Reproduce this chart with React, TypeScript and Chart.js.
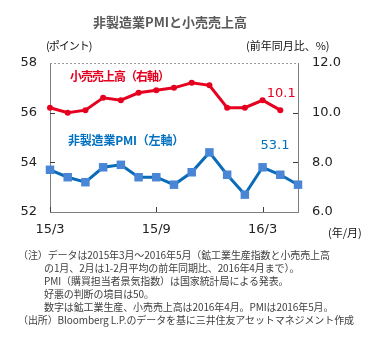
import React, { useEffect, useRef } from "react";
import { Chart, registerables } from "chart.js";

Chart.register(...registerables);

const categories = [
  "15/3", "15/4", "15/5", "15/6", "15/7", "15/8", "15/9", "15/10",
  "15/11", "15/12", "16/1", "16/2", "16/3", "16/4", "16/5",
];
const shownTicks = ["15/3", "15/9", "16/3"];
const pmi = [53.7, 53.4, 53.2, 53.8, 53.9, 53.4, 53.4, 53.1, 53.6, 54.4, 53.5, 52.7, 53.8, 53.5, 53.1];
const retail = [10.2, 10.0, 10.1, 10.6, 10.5, 10.8, 10.9, 11.0, 11.2, 11.1, 10.2, 10.2, 10.5, 10.1];
const leftTicks = [52, 54, 56, 58];
const rightTicks = [6, 8, 10, 12];

const RED = "#e60020";
const BLUE = "#0a6cb8";
const SQUARE = "#4a86d6";
const AXIS = "#7f7f7f";
const CJK = '"Noto Sans CJK JP", "Noto Sans", sans-serif';
const NUM = '"DejaVu Sans", sans-serif';

const extras = {
  id: "extras",
  afterDraw(chart: any) {
    const { ctx, chartArea, scales } = chart;
    const { left, right, top, bottom } = chartArea;
    ctx.save();
    // dashed top border
    ctx.strokeStyle = "#9a9a9a";
    ctx.lineWidth = 1;
    ctx.setLineDash([2, 2]);
    ctx.beginPath();
    ctx.moveTo(left, top + 0.5);
    ctx.lineTo(right, top + 0.5);
    ctx.stroke();
    ctx.setLineDash([]);
    ctx.strokeStyle = "#404040";
    // inward ticks
    shownTicks.forEach((c) => {
      const x = Math.round(scales.x.getPixelForValue(categories.indexOf(c))) + 0.5;
      ctx.beginPath();
      ctx.moveTo(x, bottom);
      ctx.lineTo(x, bottom - 5);
      ctx.stroke();
    });
    leftTicks.slice(1, -1).forEach((v) => {
      const y = Math.round(scales.y.getPixelForValue(v)) + 0.5;
      ctx.beginPath();
      ctx.moveTo(left, y);
      ctx.lineTo(left + 5, y);
      ctx.stroke();
    });
    rightTicks.slice(1, -1).forEach((v) => {
      const y = Math.round(scales.y1.getPixelForValue(v)) + 0.5;
      ctx.beginPath();
      ctx.moveTo(right, y);
      ctx.lineTo(right - 5, y);
      ctx.stroke();
    });
    // last value labels
    ctx.font = "13px " + NUM;
    ctx.textAlign = "center";
    ctx.textBaseline = "middle";
    const ri = retail.length - 1;
    const rx = scales.x.getPixelForValue(ri);
    const ry = scales.y1.getPixelForValue(retail[ri]);
    ctx.fillStyle = RED;
    ctx.fillText(retail[ri].toFixed(1), rx + 1, ry - 17);
    const pi = pmi.length - 1;
    const px = scales.x.getPixelForValue(pi);
    const py = scales.y.getPixelForValue(pmi[pi]);
    ctx.fillStyle = "#0070c0";
    ctx.fillText(pmi[pi].toFixed(1), px - 23, py - 39);
    ctx.restore();
  },
};

const notes = [
  { x: 18, y: 248, t: "（注）データは2015年3月～2016年5月（鉱工業生産指数と小売売上高" },
  { x: 44, y: 261, t: "の1月、2月は1-2月平均の前年同期比、2016年4月まで）。" },
  { x: 44, y: 274, t: "PMI（購買担当者景気指数）は国家統計局による発表。" },
  { x: 44, y: 287, t: "好悪の判断の境目は50。" },
  { x: 44, y: 300, t: "数字は鉱工業生産、小売売上高は2016年4月。PMIは2016年5月。" },
  { x: 18, y: 313, t: "（出所）Bloomberg L.P.のデータを基に三井住友アセットマネジメント作成" },
];

export default function App() {
  const ref = useRef<HTMLCanvasElement>(null);
  useEffect(() => {
    document.body.style.margin = "0";
    const chart = new Chart(ref.current!, {
      type: "line",
      data: {
        labels: categories,
        datasets: [
          {
            label: "小売売上高（右軸）",
            data: retail,
            yAxisID: "y1",
            borderColor: RED,
            backgroundColor: RED,
            borderWidth: 3,
            pointRadius: 3,
            pointBorderWidth: 0,
            pointStyle: "circle",
          },
          {
            label: "非製造業PMI（左軸）",
            data: pmi,
            yAxisID: "y",
            borderColor: BLUE,
            backgroundColor: SQUARE,
            borderWidth: 3,
            pointRadius: 6,
            pointBorderWidth: 0,
            pointStyle: "rect",
          },
        ],
      },
      options: {
        animation: false,
        responsive: false,
        maintainAspectRatio: false,
        layout: { padding: { top: 63, left: 0, right: 0, bottom: 0 } },
        plugins: { legend: { display: false }, tooltip: { enabled: false }, title: { display: false } },
        scales: {
          x: {
            type: "category",
            offset: false,
            grid: { display: false, drawTicks: false },
            border: { display: true, color: AXIS, width: 1 },
            ticks: {
              autoSkip: false,
              maxRotation: 0,
              padding: 10,
              color: "#222",
              font: { family: NUM, size: 13 },
              callback: (_v: any, i: number) => (shownTicks.includes(categories[i]) ? categories[i] : ""),
            },
            afterFit: (s: any) => { s.height = 33; },
          },
          y: {
            position: "left",
            min: 52,
            max: 58,
            grid: { display: false, drawTicks: false },
            border: { display: true, color: AXIS, width: 1 },
            afterBuildTicks: (s: any) => { s.ticks = leftTicks.map((v) => ({ value: v })); },
            ticks: { padding: 13, color: "#222", font: { family: NUM, size: 13 }, callback: (v: any) => String(v) },
            afterFit: (s: any) => { s.width = 50; },
          },
          y1: {
            position: "right",
            min: 6,
            max: 12,
            grid: { display: false, drawTicks: false },
            border: { display: true, color: AXIS, width: 1 },
            afterBuildTicks: (s: any) => { s.ticks = rightTicks.map((v) => ({ value: v })); },
            ticks: { padding: 14, color: "#222", font: { family: NUM, size: 13 }, callback: (v: any) => Number(v).toFixed(1) },
            afterFit: (s: any) => { s.width = 89; },
          },
        },
      },
      plugins: [extras],
    });
    return () => chart.destroy();
  }, []);

  const abs = (x: number, y: number): React.CSSProperties => ({
    position: "absolute", left: x, top: y, whiteSpace: "nowrap", lineHeight: "14px",
  });

  return (
    <div style={{ position: "relative", width: 387, height: 354, background: "#fff", overflow: "hidden", fontFamily: CJK }}>
      <canvas ref={ref} width={387} height={245} style={{ position: "absolute", left: 0, top: 0, width: 387, height: 245 }} />
      <div style={{ ...abs(93, 15), fontSize: 13, fontWeight: "bold", color: "#595959" }}>非製造業PMIと小売売上高</div>
      <div style={{ ...abs(46, 38), fontSize: 11, color: "#111", letterSpacing: "-1px" }}>(ポイント)</div>
      <div style={{ ...abs(246, 38), fontSize: 11, color: "#111" }}>(前年同月比、%)</div>
      <div style={{ ...abs(328, 225), fontSize: 11, color: "#111" }}>(年/月)</div>
      <div style={{ ...abs(70, 69), fontSize: 12, fontWeight: "bold", color: RED, letterSpacing: "-1px" }}>小売売上高（右軸）</div>
      <div style={{ ...abs(68, 133), fontSize: 12, fontWeight: "bold", color: "#0070c0", letterSpacing: "-0.2px" }}>非製造業PMI（左軸）</div>
      {notes.map((n, i) => (
        <div key={i} style={{ ...abs(n.x, n.y), fontSize: 10, color: "#404040", letterSpacing: "-0.1px" }}>{n.t}</div>
      ))}
    </div>
  );
}
